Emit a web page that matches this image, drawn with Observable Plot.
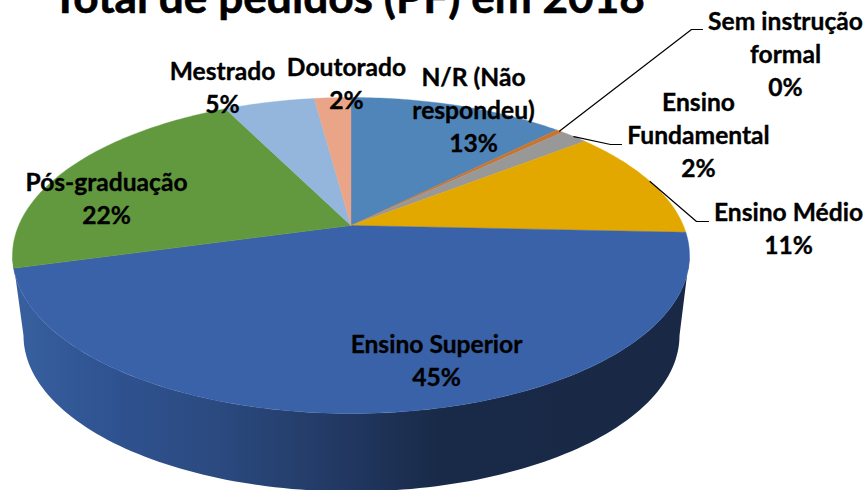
<!DOCTYPE html>
<html lang="pt">
<head>
<meta charset="utf-8">
<script src="https://cdn.jsdelivr.net/npm/d3@7"></script>
<script src="https://cdn.jsdelivr.net/npm/@observablehq/plot@0.6"></script>
<style>
html,body{margin:0;padding:0;background:#fff;overflow:hidden}
svg{display:block}
</style>
</head>
<body>
<div id="chart"></div>
<script>
const titleText = "Total de pedidos (PF) em 2018";
const categories = ["N/R (Não\nrespondeu)", "Sem instrução\nformal", "Ensino\nFundamental", "Ensino Médio", "Ensino Superior", "Pós-graduação", "Mestrado", "Doutorado"];
const shares = [12.4, 0.4, 1.6, 11.3, 45, 22, 5.2, 2.1];
const percentLabels = ["13%", "0%", "2%", "11%", "45%", "22%", "5%", "2%"];
const sliceColors = ["#4f85b9", "#c8752f", "#989898", "#e2a800", "#3a62a9", "#62993f", "#94b5dc", "#eaa487"];

// Layout (separate from the data)
const labelX = [473, 785, 698, 788, 436, 106, 222, 346];
const labelY = [108, 51.5, 133, 226.5, 358.5, 196.5, 85, 81];
const leaderElbows = {1: [[691, 29], [702, 29]], 2: [[610, 144], [621, 144]], 3: [[696, 221], [708, 221]]};

const W = 866, H = 490;
const apex = {x: 350.5, y: 225};
const ryUp = 128, ryDown = 188, rxTop = 338.5;
const B = 2 / (1 / ryUp + 1 / ryDown);
const k = B / ryUp - 1;
const A = rxTop * Math.sqrt(1 - k * k);
const rim = (f) => {
  const a = f * 2 * Math.PI, d = 1 + k * Math.cos(a);
  return {x: apex.x + A * Math.sin(a) / d, y: apex.y - B * Math.cos(a) / d};
};

const total = d3.sum(shares);
const cum = d3.cumsum(shares).map((c) => c / total);
const starts = [0, ...cum.slice(0, -1)];

const slices = shares.map((_, i) => {
  const n = Math.max(2, Math.ceil((cum[i] - starts[i]) * 360));
  const pts = [apex];
  for (let j = 0; j <= n; ++j) pts.push(rim(starts[i] + (cum[i] - starts[i]) * j / n));
  pts.push(apex);
  return pts;
});

// Side wall of the drum: front half of the top rim and of the lower rim
const ellipseArc = (cx, cy, rx, ry, t0, t1) => d3.range(0, 121).map((j) => {
  const t = t0 + (t1 - t0) * j / 120;
  return {x: cx + rx * Math.cos(t), y: cy + ry * Math.sin(t)};
});
const wall = [
  ...ellipseArc(350.5, 255, 338.5, 158, 0, Math.PI),
  ...ellipseArc(351, 335, 328, 156, Math.PI, 0)
];

const leaders = Object.entries(leaderElbows).map(([i, pts]) => {
  const p = rim((starts[i] + cum[i]) / 2);
  return [p, ...pts.map(([x, y]) => ({x, y}))];
});

const labels = categories.map((c, i) => ({text: c + "\n" + percentLabels[i], x: labelX[i], y: labelY[i]}));

const defs = () => {
  const svgNS = "http://www.w3.org/2000/svg";
  const d = document.createElementNS(svgNS, "defs");
  const g = document.createElementNS(svgNS, "linearGradient");
  g.setAttribute("id", "wallGrad");
  g.setAttribute("gradientUnits", "userSpaceOnUse");
  g.setAttribute("x1", 12); g.setAttribute("x2", 689);
  g.setAttribute("y1", 0); g.setAttribute("y2", 0);
  [[0, "#38609f"], [0.15, "#2f5290"], [0.3, "#2b4a80"], [0.5, "#213760"], [0.63, "#192a48"], [1, "#182845"]].forEach(([o, c]) => {
    const s = document.createElementNS(svgNS, "stop");
    s.setAttribute("offset", o); s.setAttribute("stop-color", c);
    g.appendChild(s);
  });
  d.appendChild(g);
  return d;
};

const font = "Lato, Carlito, Calibri, sans-serif";
const labelSize = 24.6;
const chart = Plot.plot({
  width: W, height: H,
  margin: 0,
  x: {domain: [0, W], range: [0, W], axis: null},
  y: {domain: [0, H], range: [0, H], axis: null},
  style: {background: "#fff", fontFamily: font},
  marks: [
    defs,
    Plot.line(wall, {x: "x", y: "y", fill: "url(#wallGrad)", stroke: "none"}),
    ...slices.map((pts, i) => Plot.line(pts, {x: "x", y: "y", fill: sliceColors[i], stroke: sliceColors[i], strokeWidth: 0.4})),
    ...leaders.map((pts) => Plot.line(pts, {x: "x", y: "y", stroke: "#000", strokeWidth: 1.2})),
    Plot.text(labels, {x: "x", y: "y", text: "text", fill: "#000", stroke: "#000", strokeWidth: 0.35, fontSize: labelSize, fontWeight: 700, lineHeight: 33 / labelSize, lineAnchor: "middle", textAnchor: "middle", fontFamily: font}),
    Plot.text([titleText], {x: [351], y: [-1.2], dx: -3, text: (d) => d, fill: "#000", stroke: "#000", strokeWidth: 0.6, fontSize: 44.2, fontWeight: 700, lineAnchor: "middle", textAnchor: "middle", fontFamily: font})
  ]
});
document.getElementById("chart").appendChild(chart);
</script>
</body>
</html>
